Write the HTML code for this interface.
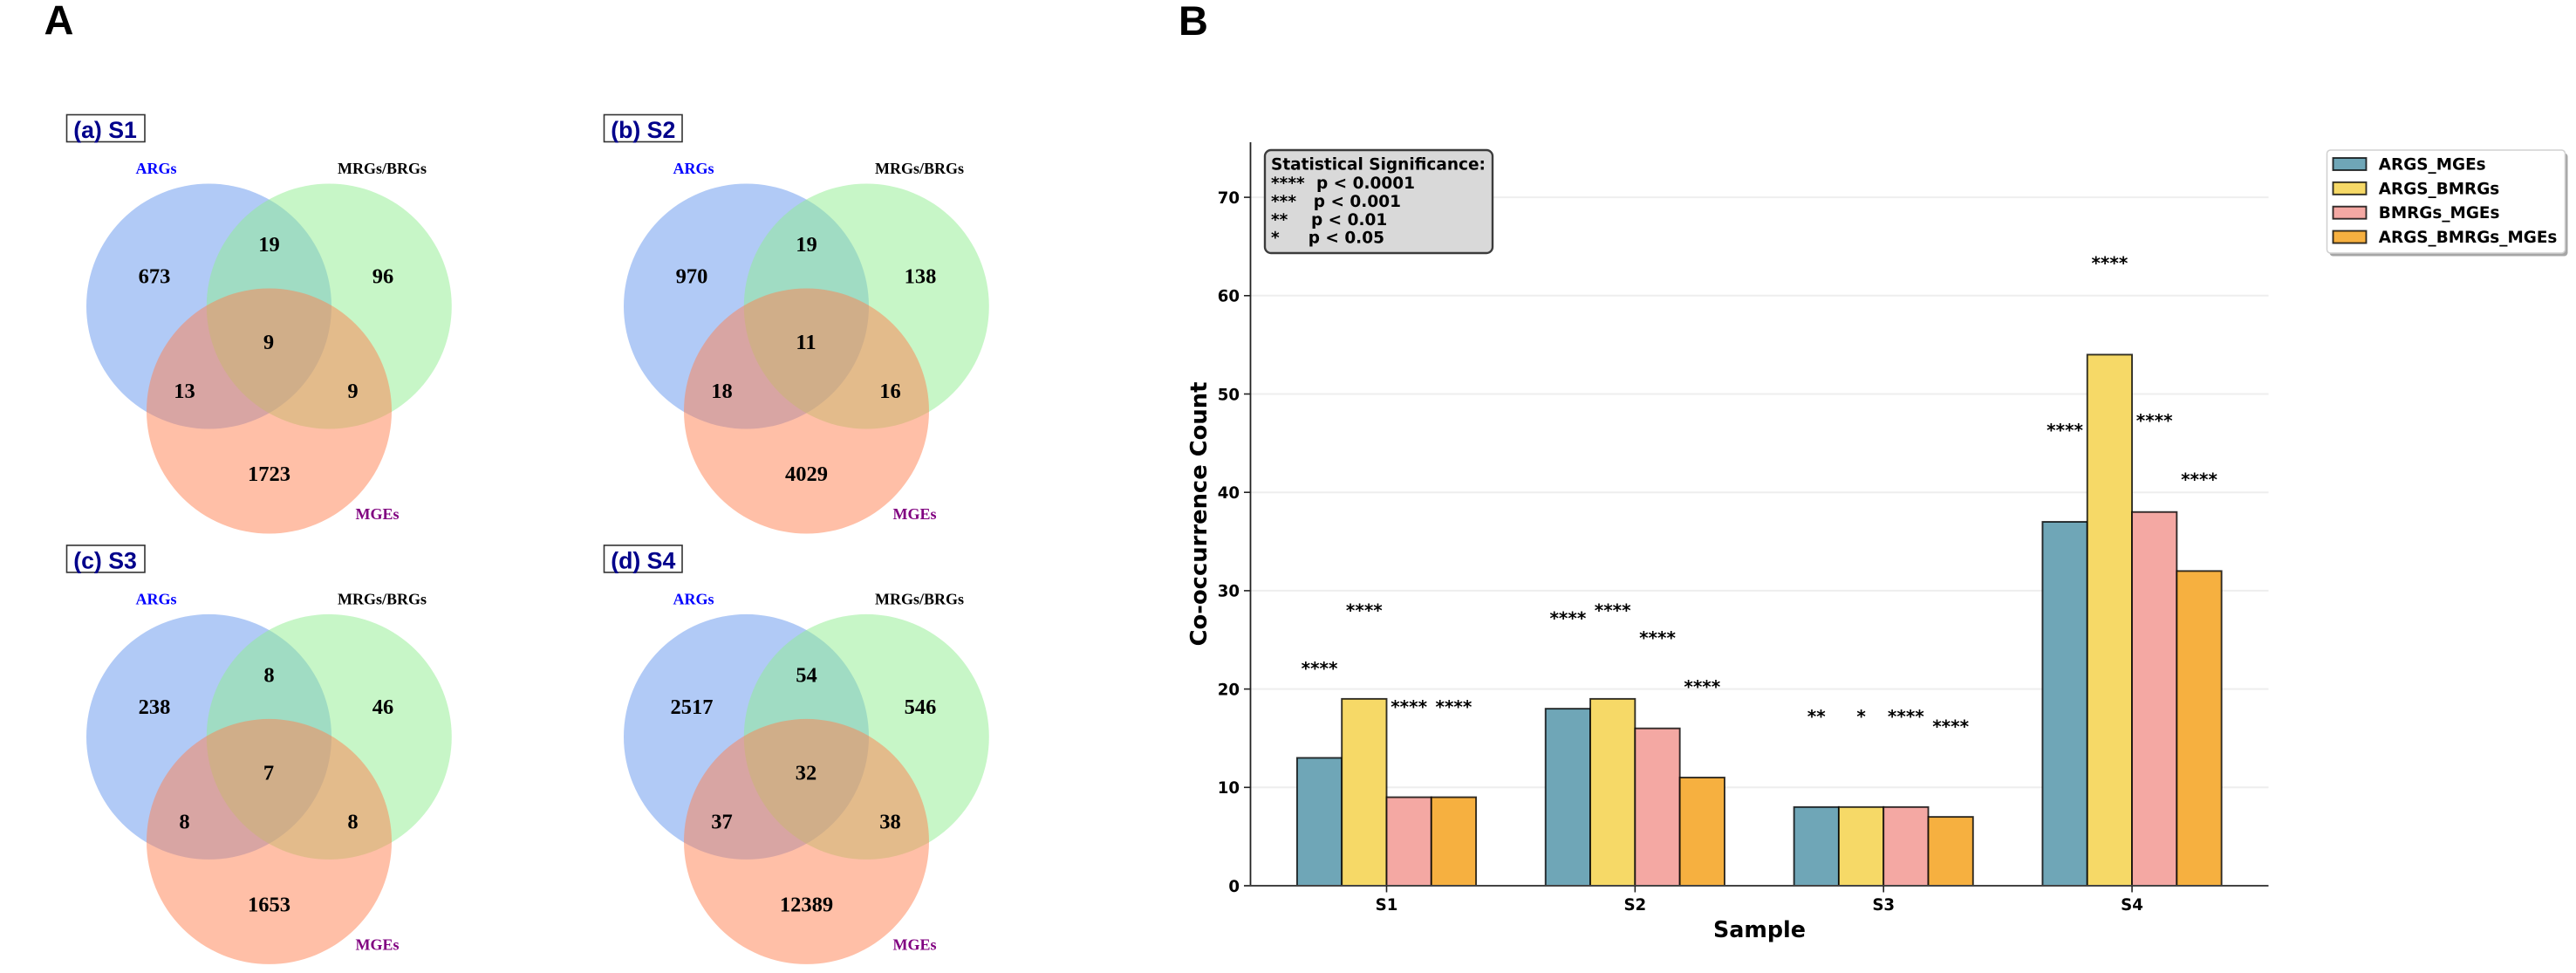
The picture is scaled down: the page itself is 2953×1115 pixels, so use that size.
<!DOCTYPE html>
<html>
<head>
<meta charset="utf-8">
<title>Venn diagrams and co-occurrence chart</title>
<style>
html,body{margin:0;padding:0;background:#fff;}
svg{display:block;}
.dj{font-family:"DejaVu Sans",sans-serif;font-weight:bold;}
.sr{font-family:"Liberation Serif",serif;font-weight:bold;}
.ls{font-family:"Liberation Sans",sans-serif;font-weight:bold;}
</style>
</head>
<body>
<svg id="fig" xmlns="http://www.w3.org/2000/svg" width="2953" height="1115" viewBox="0 0 2953 1115">
  <rect x="0" y="0" width="2953" height="1115" fill="#fff"/>
  <text class="ls" x="50.5" y="39.5" font-size="47" fill="#000">A</text>
  <text class="ls" x="1351" y="40" font-size="47" fill="#000">B</text>
  <g id="venns"></g>
  <g id="chart"></g>
  <text class="dj" transform="translate(1383,589) rotate(-90)" text-anchor="middle" font-size="25.8" fill="#000">Co-occurrence Count</text>
  <text class="dj" x="2017" y="1074" text-anchor="middle" font-size="25.4" fill="#000">Sample</text>
  <g>
    <rect x="1450" y="172" width="261" height="118" rx="7" fill="#d9d9d9" stroke="#3c3c3c" stroke-width="2.4"/>
    <text class="dj" x="1457" y="194.6" font-size="18.5" fill="#000">Statistical Significance:</text>
    <text class="dj" y="216" font-size="18.5" fill="#000"><tspan x="1457">****</tspan><tspan x="1509">p &lt; 0.0001</tspan></text>
    <text class="dj" y="236.8" font-size="18.5" fill="#000"><tspan x="1457">***</tspan><tspan x="1505.8">p &lt; 0.001</tspan></text>
    <text class="dj" y="257.8" font-size="18.5" fill="#000"><tspan x="1457">**</tspan><tspan x="1503">p &lt; 0.01</tspan></text>
    <text class="dj" y="278.6" font-size="18.5" fill="#000"><tspan x="1457">*</tspan><tspan x="1499.7">p &lt; 0.05</tspan></text>
  </g>
  <g id="legend">
    <rect x="2670.5" y="175.5" width="273" height="118" rx="4" fill="#a6a6a6"/>
    <rect x="2667.5" y="172" width="273" height="118" rx="4" fill="#fff" stroke="#d0d0d0" stroke-width="1.5"/>
  </g>
</svg>
<script>
// ---- Venn data ----
var panelTitles = ['(a) S1', '(b) S2', '(c) S3', '(d) S4'];
var onlyArgs = [673, 970, 238, 2517];
var argsBrgs = [19, 19, 8, 54];
var onlyBrgs = [96, 138, 46, 546];
var argsMges = [13, 18, 8, 37];
var allThree = [9, 11, 7, 32];
var brgsMges = [9, 16, 8, 38];
var onlyMges = [1723, 4029, 1653, 12389];

// ---- Bar chart data ----
var categories = ['S1', 'S2', 'S3', 'S4'];
var seriesNames = ['ARGS_MGEs', 'ARGS_BMRGs', 'BMRGs_MGEs', 'ARGS_BMRGs_MGEs'];
var argsMgesValues = [13, 18, 8, 37];
var argsBmrgsValues = [19, 19, 8, 54];
var bmrgsMgesValues = [9, 16, 8, 38];
var allValues = [9, 11, 7, 32];
var yTickValues = [0, 10, 20, 30, 40, 50, 60, 70];
var argsMgesStars = ['****', '****', '**', '****'];
var argsBmrgsStars = ['****', '****', '*', '****'];
var bmrgsMgesStars = ['****', '****', '****', '****'];
var allStars = ['****', '****', '****', '****'];
var argsMgesStarLevel = [22.2, 27.3, 17.3, 46.4];
var argsBmrgsStarLevel = [28.1, 28.1, 17.3, 63.4];
var bmrgsMgesStarLevel = [18.3, 25.3, 17.3, 47.4];
var allStarLevel = [18.3, 20.3, 16.3, 41.4];

var NS = 'http://www.w3.org/2000/svg';
function mk(tag, attrs, parent) {
  var el = document.createElementNS(NS, tag);
  for (var k in attrs) { el.setAttribute(k, attrs[k]); }
  parent.appendChild(el);
  return el;
}

// ---- Draw Venn panels ----
var venns = document.getElementById('venns');
var colX = 616, rowY = 493.4, R = 140.5;
panelTitles.forEach(function (title, i) {
  var dx = (i % 2) * colX, dy = Math.floor(i / 2) * rowY;
  var g = mk('g', { transform: 'translate(' + dx + ',' + dy + ')' }, venns);
  
  

  var box = mk('rect', { x: 76.5, y: 131.5, width: 89.5, height: 31, fill: '#fff', stroke: '#333', 'stroke-width': 1.6 }, g);
  
  
  var t = mk('text', { x: 84.2, y: 158, 'font-size': 26.7, fill: '#00008b', 'class': 'ls' }, g);
  
  
  t.textContent = title;

  var c1 = mk('circle', { cx: 239.5, cy: 351, r: R, fill: '#6495ed', 'fill-opacity': 0.5 }, g);
  
  
  var c2 = mk('circle', { cx: 377.3, cy: 351, r: R, fill: '#90ee90', 'fill-opacity': 0.5 }, g);
  
  
  var c3 = mk('circle', { cx: 308.5, cy: 471, r: R, fill: '#ff7f50', 'fill-opacity': 0.5 }, g);
  
  

  var l1 = mk('text', { x: 179, y: 199, 'text-anchor': 'middle', 'font-size': 18, fill: '#0000ff', 'class': 'sr' }, g);
  
  
  l1.textContent = 'ARGs';
  var l2 = mk('text', { x: 438, y: 199, 'text-anchor': 'middle', 'font-size': 18, fill: '#000', 'class': 'sr' }, g);
  
  
  l2.textContent = 'MRGs/BRGs';
  var l3 = mk('text', { x: 432.5, y: 595, 'text-anchor': 'middle', 'font-size': 18, fill: '#800080', 'class': 'sr' }, g);
  
  
  l3.textContent = 'MGEs';

  var regionVals = [onlyArgs[i], argsBrgs[i], onlyBrgs[i], argsMges[i], allThree[i], brgsMges[i], onlyMges[i]];
  var regionX = [177, 308.5, 439, 211.5, 308, 404.5, 308.5];
  var regionY = [324.5, 288, 324.5, 456, 400, 456, 551];
  regionVals.forEach(function (v, j) {
    var n = mk('text', { x: regionX[j], y: regionY[j], 'text-anchor': 'middle', 'font-size': 24.5, fill: '#000', 'class': 'sr' }, g);
    
    
    n.textContent = v;
  });
});

// ---- Draw bar chart ----
var chart = document.getElementById('chart');
var legend = document.getElementById('legend');
var fills = ['#6fa6b7', '#f6d967', '#f4a8a3', '#f6b040'];
var plotLeft = 1433.5, plotRight = 2600.5, plotBottom = 1015, plotTop = 163;
var barW = 51.3;
function xScale(i) { return 1589.5 + 284.85 * i; }
function yScale(v) { return plotBottom - 11.27 * v; }

yTickValues.forEach(function (v) {
  if (v > 0) {
    var gl = mk('line', { x1: plotLeft, x2: plotRight, y1: yScale(v), y2: yScale(v), stroke: '#eeeeee', 'stroke-width': 2 }, chart);
    
    
  }
  var tk = mk('line', { x1: plotLeft - 7.5, x2: plotLeft, y1: yScale(v), y2: yScale(v), stroke: '#222', 'stroke-width': 1.6 }, chart);
  
  
  var lb = mk('text', { x: 1421, y: yScale(v) + 6.8, 'text-anchor': 'end', 'font-size': 18.2, fill: '#000', 'class': 'dj' }, chart);
  
  
  lb.textContent = v;
});

var seriesValues = [argsMgesValues, argsBmrgsValues, bmrgsMgesValues, allValues];
var seriesStars = [argsMgesStars, argsBmrgsStars, bmrgsMgesStars, allStars];
var seriesLevels = [argsMgesStarLevel, argsBmrgsStarLevel, bmrgsMgesStarLevel, allStarLevel];

seriesValues.forEach(function (vals, s) {
  vals.forEach(function (v, c) {
    var bx = xScale(c) + (s - 2) * barW;
    var bar = mk('rect', { x: bx, y: yScale(v), width: barW, height: yScale(0) - yScale(v), fill: fills[s], stroke: '#000', 'stroke-opacity': 0.8, 'stroke-width': 1.9 }, chart);
    
    
  });
});

seriesStars.forEach(function (stars, s) {
  stars.forEach(function (st, c) {
    var sx = xScale(c) + (s - 1.5) * barW;
    var sg = mk('text', { x: sx, y: yScale(seriesLevels[s][c]) + 8, 'text-anchor': 'middle', 'font-size': 20, fill: '#000', 'class': 'dj' }, chart);
    
    
    sg.textContent = st;
  });
});

var spineL = mk('line', { x1: plotLeft, x2: plotLeft, y1: plotTop, y2: plotBottom, stroke: '#222', 'stroke-width': 1.8 }, chart);


var spineB = mk('line', { x1: plotLeft - 7.5, x2: plotRight, y1: plotBottom, y2: plotBottom, stroke: '#444', 'stroke-width': 2 }, chart);



categories.forEach(function (cat, c) {
  var tk = mk('line', { x1: xScale(c), x2: xScale(c), y1: plotBottom, y2: plotBottom + 7.5, stroke: '#222', 'stroke-width': 1.6 }, chart);
  
  
  var lb = mk('text', { x: xScale(c), y: 1043, 'text-anchor': 'middle', 'font-size': 18.2, fill: '#000', 'class': 'dj' }, chart);
  
  
  lb.textContent = cat;
});

seriesNames.forEach(function (name, s) {
  var sw = mk('rect', { x: 2674.5, y: 181 + 27.85 * s, width: 38, height: 14, fill: fills[s], stroke: '#000', 'stroke-opacity': 0.8, 'stroke-width': 1.9 }, legend);
  
  
  var lb = mk('text', { x: 2726.8, y: 194.5 + 27.85 * s, 'font-size': 18.4, fill: '#000', 'class': 'dj' }, legend);
  
  
  lb.textContent = name;
});
</script>
</body>
</html>
